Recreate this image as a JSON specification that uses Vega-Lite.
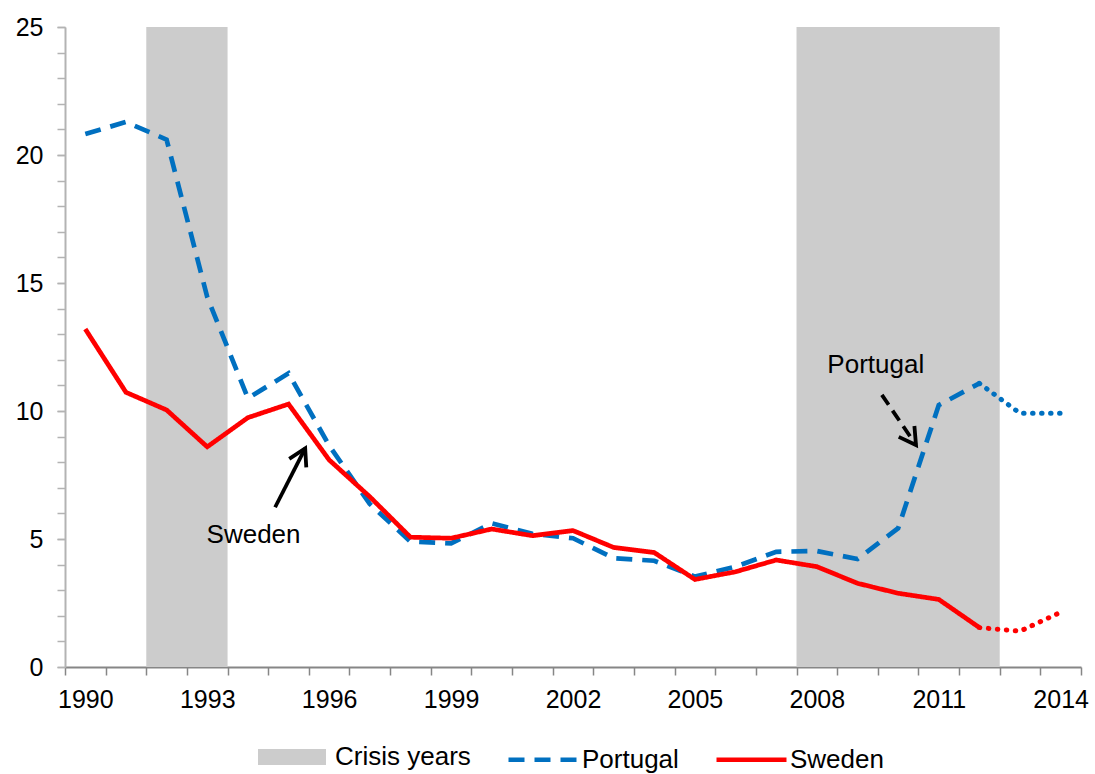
{
  "$schema": "https://vega.github.io/schema/vega-lite/v6.json",
  "width": 1016,
  "height": 640,
  "autosize": {"type": "none"},
  "padding": {"left": 65, "top": 27, "right": 14, "bottom": 107},
  "config": {
    "view": {"stroke": null},
    "font": "Liberation Sans",
    "axis": {"grid": false, "labelOverlap": false, "labelFontSize": 25, "labelColor": "#000000", "labelFont": "Liberation Sans", "title": null},
    "axisX": {"tickSize": 8, "tickWidth": 1.5, "tickColor": "#868686", "domainColor": "#868686", "domainWidth": 2, "labelFlush": false, "labelBound": false},
    "axisY": {"tickSize": 8, "tickWidth": 1.5, "tickColor": "#b3b3b3", "domainColor": "#b3b3b3", "domainWidth": 2},
    "legend": {"labelFontSize": 26, "labelColor": "#000000", "labelFont": "Liberation Sans", "title": null, "orient": "none", "direction": "horizontal"}
  },
  "resolve": {"axis": {"x": "independent", "y": "independent"}},
  "datasets": {
    "crisis": [
      {"start": 1991.5, "end": 1993.5, "kind": "Crisis years"},
      {"start": 2007.5, "end": 2012.5, "kind": "Crisis years"}
    ],
    "rates": [
      {"year": 1990, "country": "Portugal", "rate": 20.82},
      {"year": 1991, "country": "Portugal", "rate": 21.29},
      {"year": 1992, "country": "Portugal", "rate": 20.6},
      {"year": 1993, "country": "Portugal", "rate": 14.45},
      {"year": 1994, "country": "Portugal", "rate": 10.5},
      {"year": 1995, "country": "Portugal", "rate": 11.47},
      {"year": 1996, "country": "Portugal", "rate": 8.65},
      {"year": 1997, "country": "Portugal", "rate": 6.37},
      {"year": 1998, "country": "Portugal", "rate": 4.9},
      {"year": 1999, "country": "Portugal", "rate": 4.83},
      {"year": 2000, "country": "Portugal", "rate": 5.61},
      {"year": 2001, "country": "Portugal", "rate": 5.2},
      {"year": 2002, "country": "Portugal", "rate": 5.03},
      {"year": 2003, "country": "Portugal", "rate": 4.25},
      {"year": 2004, "country": "Portugal", "rate": 4.15},
      {"year": 2005, "country": "Portugal", "rate": 3.53},
      {"year": 2006, "country": "Portugal", "rate": 3.92},
      {"year": 2007, "country": "Portugal", "rate": 4.5},
      {"year": 2008, "country": "Portugal", "rate": 4.53},
      {"year": 2009, "country": "Portugal", "rate": 4.22},
      {"year": 2010, "country": "Portugal", "rate": 5.42},
      {"year": 2011, "country": "Portugal", "rate": 10.23},
      {"year": 2012, "country": "Portugal", "rate": 11.08},
      {"year": 2013, "country": "Portugal", "rate": 9.91},
      {"year": 2014, "country": "Portugal", "rate": 9.91},
      {"year": 1990, "country": "Sweden", "rate": 13.2},
      {"year": 1991, "country": "Sweden", "rate": 10.73},
      {"year": 1992, "country": "Sweden", "rate": 10.04},
      {"year": 1993, "country": "Sweden", "rate": 8.6},
      {"year": 1994, "country": "Sweden", "rate": 9.74},
      {"year": 1995, "country": "Sweden", "rate": 10.27},
      {"year": 1996, "country": "Sweden", "rate": 8.09},
      {"year": 1997, "country": "Sweden", "rate": 6.65},
      {"year": 1998, "country": "Sweden", "rate": 5.07},
      {"year": 1999, "country": "Sweden", "rate": 5.03},
      {"year": 2000, "country": "Sweden", "rate": 5.39},
      {"year": 2001, "country": "Sweden", "rate": 5.13},
      {"year": 2002, "country": "Sweden", "rate": 5.33},
      {"year": 2003, "country": "Sweden", "rate": 4.67},
      {"year": 2004, "country": "Sweden", "rate": 4.47},
      {"year": 2005, "country": "Sweden", "rate": 3.42},
      {"year": 2006, "country": "Sweden", "rate": 3.72},
      {"year": 2007, "country": "Sweden", "rate": 4.18},
      {"year": 2008, "country": "Sweden", "rate": 3.92},
      {"year": 2009, "country": "Sweden", "rate": 3.27},
      {"year": 2010, "country": "Sweden", "rate": 2.88},
      {"year": 2011, "country": "Sweden", "rate": 2.64},
      {"year": 2012, "country": "Sweden", "rate": 1.54},
      {"year": 2013, "country": "Sweden", "rate": 1.4},
      {"year": 2014, "country": "Sweden", "rate": 2.14}
    ],
    "labels": [
      {"text": "Sweden", "year": 1994.14, "value": 4.86},
      {"text": "Portugal", "year": 2009.45, "value": 11.47}
    ],
    "arrows": [
      {"name": "Sweden", "x0": 1994.67, "y0": 6.24, "x1": 1995.41, "y1": 8.54},
      {"name": "Portugal", "x0": 2009.6, "y0": 10.63, "x1": 2010.44, "y1": 8.67}
    ]
  },
  "layer": [
    {
      "data": {"name": "crisis"},
      "mark": {"type": "rect"},
      "encoding": {
        "x": {
          "field": "start", "type": "quantitative",
          "scale": {"domain": [1989.5, 2014.5], "nice": false, "zero": false},
          "axis": {
            "orient": "bottom",
            "values": [1989.5, 1990.5, 1991.5, 1992.5, 1993.5, 1994.5, 1995.5, 1996.5, 1997.5, 1998.5, 1999.5, 2000.5, 2001.5, 2002.5, 2003.5, 2004.5, 2005.5, 2006.5, 2007.5, 2008.5, 2009.5, 2010.5, 2011.5, 2012.5, 2013.5, 2014.5],
            "labels": false
          }
        },
        "x2": {"field": "end"},
        "y": {
          "datum": 0, "type": "quantitative",
          "scale": {"domain": [0, 25], "nice": false, "zero": true},
          "axis": {
            "orient": "left",
            "values": [0, 1, 2, 3, 4, 5, 6, 7, 8, 9, 10, 11, 12, 13, 14, 15, 16, 17, 18, 19, 20, 21, 22, 23, 24, 25],
            "labels": false
          }
        },
        "y2": {"datum": 25},
        "fill": {
          "field": "kind", "type": "nominal",
          "scale": {"domain": ["Crisis years"], "range": ["#cccccc"]},
          "legend": {"legendX": 193, "legendY": 696, "symbolType": "M -1 -0.235 L 1 -0.235 L 1 0.235 L -1 0.235 Z", "symbolSize": 4624, "symbolStrokeWidth": 0, "labelOffset": 9}
        }
      }
    },
    {
      "data": {"name": "rates"},
      "transform": [{"filter": "datum.year <= 2012"}],
      "mark": {"type": "line", "strokeWidth": 4.7, "strokeCap": "butt"},
      "encoding": {
        "x": {
          "field": "year", "type": "quantitative",
          "axis": {
            "orient": "bottom",
            "values": [1990, 1993, 1996, 1999, 2002, 2005, 2008, 2011, 2014],
            "format": "d",
            "ticks": false,
            "domain": false,
            "labelPadding": 20
          }
        },
        "y": {
          "field": "rate", "type": "quantitative",
          "axis": {
            "orient": "left",
            "values": [0, 5, 10, 15, 20, 25],
            "domain": false,
            "labelPadding": 14
          }
        },
        "color": {
          "field": "country", "type": "nominal",
          "scale": {"domain": ["Portugal", "Sweden"], "range": ["#0070c0", "#ff0000"]},
          "legend": {"legendX": 441, "legendY": 695, "symbolType": "stroke", "symbolSize": 4900, "symbolStrokeWidth": 4.5, "labelOffset": 1, "columnPadding": 28}
        },
        "strokeDash": {
          "field": "country", "type": "nominal",
          "scale": {"domain": ["Portugal", "Sweden"], "range": [[16, 10], [1, 0]]},
          "legend": {"legendX": 441, "legendY": 695, "symbolType": "stroke", "symbolSize": 4900, "symbolStrokeWidth": 4.5, "labelOffset": 1, "columnPadding": 28}
        }
      }
    },
    {
      "data": {"name": "rates"},
      "transform": [{"filter": "datum.year >= 2012 && datum.country === 'Portugal'"}],
      "mark": {"type": "line", "color": "#0070c0", "strokeWidth": 5, "strokeCap": "round", "strokeDash": [0.5, 8.5]},
      "encoding": {
        "x": {"field": "year", "type": "quantitative", "axis": null},
        "y": {"field": "rate", "type": "quantitative", "axis": null}
      }
    },
    {
      "data": {"name": "rates"},
      "transform": [{"filter": "datum.year >= 2012 && datum.country === 'Sweden'"}],
      "mark": {"type": "line", "color": "#ff0000", "strokeWidth": 5, "strokeCap": "round", "strokeDash": [0.5, 8.5]},
      "encoding": {
        "x": {"field": "year", "type": "quantitative", "axis": null},
        "y": {"field": "rate", "type": "quantitative", "axis": null}
      }
    },
    {
      "data": {"name": "labels"},
      "mark": {"type": "text", "fontSize": 26, "font": "Liberation Sans", "color": "#000000", "align": "center", "baseline": "alphabetic"},
      "encoding": {
        "x": {"field": "year", "type": "quantitative", "axis": null},
        "y": {"field": "value", "type": "quantitative", "axis": null},
        "text": {"field": "text"}
      }
    },
    {
      "data": {"name": "arrows"},
      "transform": [{"filter": "datum.name === 'Sweden'"}],
      "mark": {"type": "rule", "color": "#000000", "strokeWidth": 3.8},
      "encoding": {
        "x": {"field": "x0", "type": "quantitative", "axis": null},
        "y": {"field": "y0", "type": "quantitative", "axis": null},
        "x2": {"field": "x1"},
        "y2": {"field": "y1"}
      }
    },
    {
      "data": {"name": "arrows"},
      "transform": [{"filter": "datum.name === 'Portugal'"}],
      "mark": {"type": "rule", "color": "#000000", "strokeWidth": 3.8, "strokeDash": [12, 7]},
      "encoding": {
        "x": {"field": "x0", "type": "quantitative", "axis": null},
        "y": {"field": "y0", "type": "quantitative", "axis": null},
        "x2": {"field": "x1"},
        "y2": {"field": "y1"}
      }
    },
    {
      "data": {"name": "arrows"},
      "transform": [{"filter": "datum.name === 'Sweden'"}],
      "mark": {"type": "point", "shape": "M -0.5 0.87 L 0 0 L 0.5 0.87", "filled": false, "stroke": "#000000", "strokeWidth": 3.8, "size": 1450, "angle": 26.6, "opacity": 1},
      "encoding": {
        "x": {"field": "x1", "type": "quantitative", "axis": null},
        "y": {"field": "y1", "type": "quantitative", "axis": null}
      }
    },
    {
      "data": {"name": "arrows"},
      "transform": [{"filter": "datum.name === 'Portugal'"}],
      "mark": {"type": "point", "shape": "M -0.5 0.87 L 0 0 L 0.5 0.87", "filled": false, "stroke": "#000000", "strokeWidth": 3.8, "size": 1450, "angle": 145.3, "opacity": 1},
      "encoding": {
        "x": {"field": "x1", "type": "quantitative", "axis": null},
        "y": {"field": "y1", "type": "quantitative", "axis": null}
      }
    }
  ]
}
